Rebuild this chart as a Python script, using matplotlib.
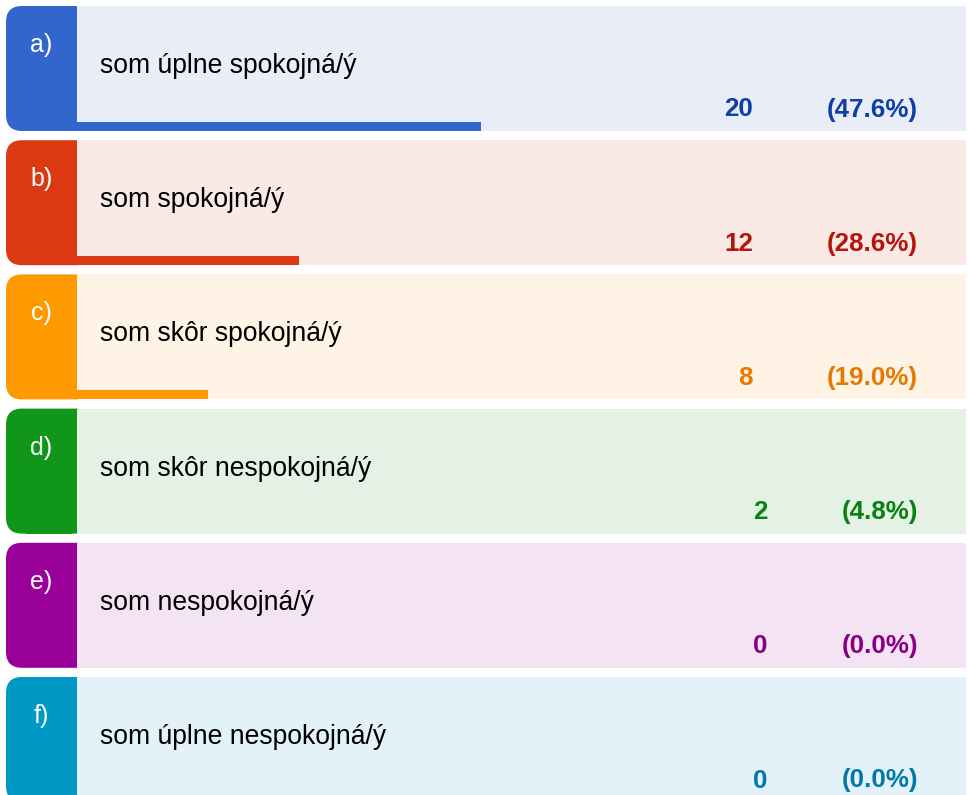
import matplotlib
matplotlib.use("Agg")
import matplotlib.pyplot as plt
from matplotlib.patches import FancyBboxPatch, Rectangle

letters = ["a)", "b)", "c)", "d)", "e)", "f)"]
labels = ["som úplne spokojná/ý", "som spokojná/ý", "som skôr spokojná/ý",
          "som skôr nespokojná/ý", "som nespokojná/ý", "som úplne nespokojná/ý"]
counts = [20, 12, 8, 2, 0, 0]
percents = [47.6, 28.6, 19.0, 4.8, 0.0, 0.0]
tab_colors = ["#3366CC", "#DC3912", "#FF9900", "#109618", "#990099", "#0099C6"]
bg_colors = ["#E9EDF8", "#FBE9E6", "#FFF3E6", "#E4F2E5", "#F3E3F3", "#E3F2F8"]
text_colors = ["#0E3FA6", "#B5150C", "#E67A00", "#0B8012", "#870087", "#0079A8"]

W, H = 968, 795
DPI = 100
fig = plt.figure(figsize=(W / DPI, H / DPI), dpi=DPI)
ax = fig.add_axes([0, 0, 1, 1])
ax.set_xlim(0, W)
ax.set_ylim(H, 0)
ax.axis("off")

FONT = "Liberation Sans"
PX = 72 / DPI  # points per pixel

left, tab_right, right = 6, 77, 966
top0, pitch, row_h = 6, 134.2, 125
radius = 16
bar_h = 9
bar_x0 = 26
total = sum(counts)
full_bar = 955.5  # pixels corresponding to 100%

fig.canvas.draw()
renderer = fig.canvas.get_renderer()
inv = ax.transData.inverted()

for i in range(len(letters)):
    top = top0 + pitch * i
    bottom = top + row_h
    # tab with rounded left corners (clipped on the right)
    tab = FancyBboxPatch((left + radius, top + radius), (tab_right + 30) - left - 2 * radius,
                         row_h - 2 * radius,
                         boxstyle=f"round,pad={radius}", fc=tab_colors[i], ec="none", zorder=1)
    ax.add_patch(tab)
    clip = Rectangle((0, top - 2), tab_right + 0.5, row_h + 4, transform=ax.transData)
    tab.set_clip_path(clip)
    # light panel
    ax.add_patch(Rectangle((tab_right, top), right - tab_right, row_h,
                           fc=bg_colors[i], ec="none", zorder=2))
    # bar
    frac = counts[i] / total
    ax.add_patch(Rectangle((bar_x0, bottom - bar_h), frac * full_bar, bar_h,
                           fc=tab_colors[i], ec="none", zorder=3))
    # letter
    ax.text(41.5, top + 46, letters[i], color="white", fontsize=25 * PX,
            family=FONT, ha="center", va="baseline", zorder=5)
    # label
    ax.text(100, top + 67, labels[i], color="black", fontsize=26.5 * PX,
            family=FONT, ha="left", va="baseline", zorder=5)
    # percent
    pt = ax.text(918, top + 110.5, f"({percents[i]:.1f}%)", color=text_colors[i],
                 fontsize=26 * PX, family=FONT, fontweight="bold",
                 ha="right", va="baseline", zorder=5)
    bb = pt.get_window_extent(renderer)
    x_left = inv.transform((bb.x0, bb.y0))[0]
    ax.text(x_left - 74, top + 110.5, f"{counts[i]}", color=text_colors[i],
            fontsize=26 * PX, family=FONT, fontweight="bold",
            ha="right", va="baseline", zorder=5)

fig.savefig("out.png", dpi=DPI, facecolor="white")
